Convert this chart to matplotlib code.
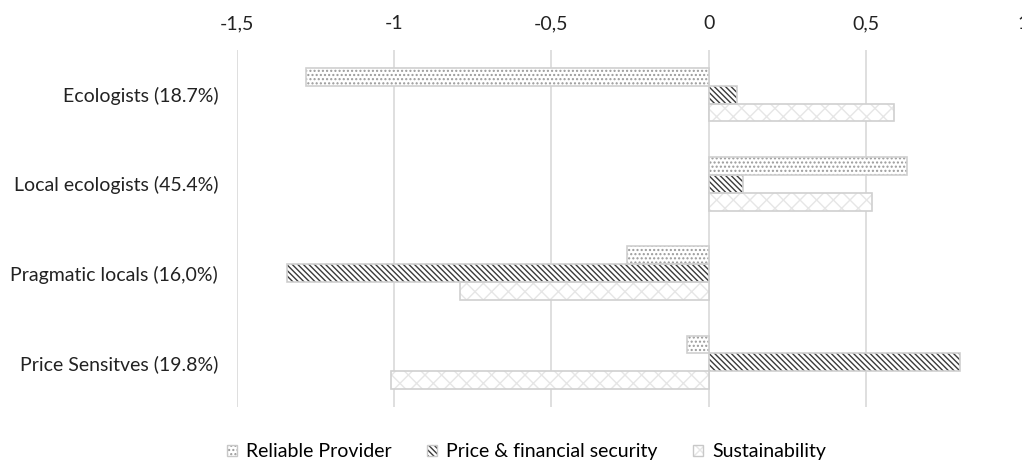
import matplotlib.pyplot as plt
import numpy as np

plt.rcParams['font.family'] = ['Lato', 'DejaVu Sans']
plt.rcParams['hatch.linewidth'] = 1.0

# data
segments = ["Ecologists (18.7%)", "Local ecologists (45.4%)",
            "Pragmatic locals (16,0%)", "Price Sensitves (19.8%)"]
reliable = [-1.28, 0.63, -0.26, -0.07]
price = [0.09, 0.11, -1.34, 0.80]
sustain = [0.59, 0.52, -0.79, -1.01]
series_names = ["Reliable Provider", "Price & financial security", "Sustainability"]
xticks = [-1.5, -1, -0.5, 0, 0.5, 1]
xlabels = ["-1,5", "-1", "-0,5", "0", "0,5", "1"]

fig = plt.figure(figsize=(10.22, 4.63), dpi=100)
ax = fig.add_axes([237 / 1022, 1 - 407 / 463, (1023 - 237) / 1022, 357 / 463])

y = np.arange(len(segments))
h = 0.2
styles = [("....", "#9a9a9a"), ("\\\\\\\\\\\\", "#3a3a3a"), ("xx", "#e6e6e6")]
handles = []
for i, (vals, (hatch, hc)) in enumerate(zip([reliable, price, sustain], styles)):
    pos = y + (i - 1) * h
    ax.barh(pos, vals, height=h, color="white", edgecolor=hc, hatch=hatch, linewidth=0, zorder=2)
    ax.barh(pos, vals, height=h, color="none", edgecolor="#d0d0d0", linewidth=1.2, zorder=3)
    fill = plt.Rectangle((0, 0), 1, 1, facecolor="white", edgecolor=hc, hatch=hatch, linewidth=0)
    border = plt.Rectangle((0, 0), 1, 1, facecolor="none", edgecolor="#c8c8c8", linewidth=1.0)
    handles.append((fill, border))

ax.set_xlim(-1.5, 1)
ax.set_ylim(3.5, -0.5)
ax.set_xticks(xticks)
ax.set_xticklabels(xlabels)
ax.xaxis.tick_top()
ax.set_yticks(y)
ax.set_yticklabels(segments)
ax.tick_params(axis="both", length=0, labelsize=14, colors="#222222")
ax.tick_params(axis="y", pad=13.5)
ax.tick_params(axis="x", pad=13)
ax.grid(axis="x", color="#d9d9d9", linewidth=1.2, zorder=0)
for s in ax.spines.values():
    s.set_visible(False)

fig.legend(handles, series_names, loc="center", bbox_to_anchor=(0.515, 0.024),
           ncol=3, frameon=False, fontsize=14, handlelength=0.55, handleheight=0.55,
           columnspacing=1.8, handletextpad=0.45)

fig.savefig("out.png", dpi=100, facecolor="white")
